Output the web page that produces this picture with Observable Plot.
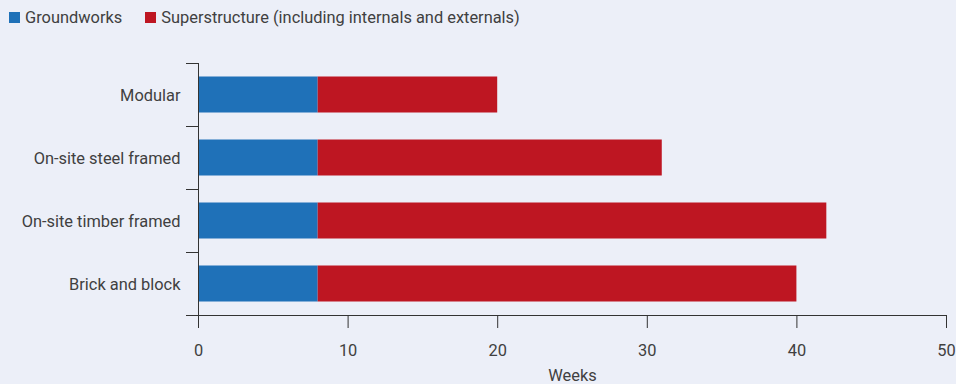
<!DOCTYPE html>
<html>
<head>
<meta charset="utf-8">
<script src="https://cdn.jsdelivr.net/npm/d3@7"></script>
<script src="https://cdn.jsdelivr.net/npm/@observablehq/plot@0.6"></script>
<style>
  html, body { margin: 0; padding: 0; background: #eceff8; }
  #chart { width: 956px; height: 384px; font-family: Roboto, "Noto Sans", sans-serif; color: #404040; }
  .legend { display: flex; align-items: center; height: 34px; padding-left: 9px; font-size: 16.4px; box-sizing: border-box; }
  .legend .item { display: flex; align-items: center; margin-right: 23px; }
  .legend .swatch { width: 11px; height: 11px; display: inline-block; margin-right: 5px; }
  svg text { fill: #404040; }
</style>
</head>
<body>
<div id="chart"></div>
<script>
// Build duration by construction method (weeks)
const methods = ["Modular", "On-site steel framed", "On-site timber framed", "Brick and block"];
const groundworks = [8, 8, 8, 8];
const superstructure = [12, 23, 34, 32];
const seriesNames = ["Groundworks", "Superstructure (including internals and externals)"];
const seriesColors = ["#1f71b8", "#be1622"];
const xTicks = [0, 10, 20, 30, 40, 50];

// Long-form table for the stacked bars
const rows = [];
methods.forEach((m, i) => {
  rows.push({method: m, series: seriesNames[0], weeks: groundworks[i]});
  rows.push({method: m, series: seriesNames[1], weeks: superstructure[i]});
});

const chart = document.getElementById("chart");

// Legend above the plot
const legend = document.createElement("div");
legend.className = "legend";
seriesNames.forEach((name, i) => {
  const item = document.createElement("span");
  item.className = "item";
  const sw = document.createElement("span");
  sw.className = "swatch";
  sw.style.background = seriesColors[i];
  item.appendChild(sw);
  item.appendChild(document.createTextNode(name));
  legend.appendChild(item);
});
chart.appendChild(legend);

const plot = Plot.plot({
  width: 956,
  height: 350,
  marginTop: 29,
  marginBottom: 69,
  marginLeft: 198,
  marginRight: 10,
  style: {background: "transparent", fontFamily: "Roboto, 'Noto Sans', sans-serif", fontSize: "16.4px", color: "#404040"},
  x: {domain: [0, 50]},
  y: {domain: methods, padding: 0},
  color: {domain: seriesNames, range: seriesColors},
  marks: [
    Plot.barX(rows, {
      x: "weeks", y: "method", fill: "series",
      order: seriesNames, insetTop: 13.5, insetBottom: 13.5
    }),
    // vertical axis line and horizontal baseline
    Plot.frame({anchor: "left", stroke: "#333"}),
    Plot.frame({anchor: "bottom", stroke: "#333", insetLeft: -12}),
    // ticks on the band boundaries
    Plot.ruleY(methods, {y: d => d, x1: 0, x2: 0, insetLeft: -12, dy: -31.5, stroke: "#333"}),
    Plot.axisY({tickSize: 0, tickPadding: 18, dy: 1, label: null}),
    Plot.axisX({
      ticks: xTicks, tickSize: 13, tickPadding: 16, stroke: "#333",
      label: "Weeks", labelAnchor: "center", labelArrow: "none", labelOffset: 65
    })
  ]
});
chart.appendChild(plot);
</script>
</body>
</html>
